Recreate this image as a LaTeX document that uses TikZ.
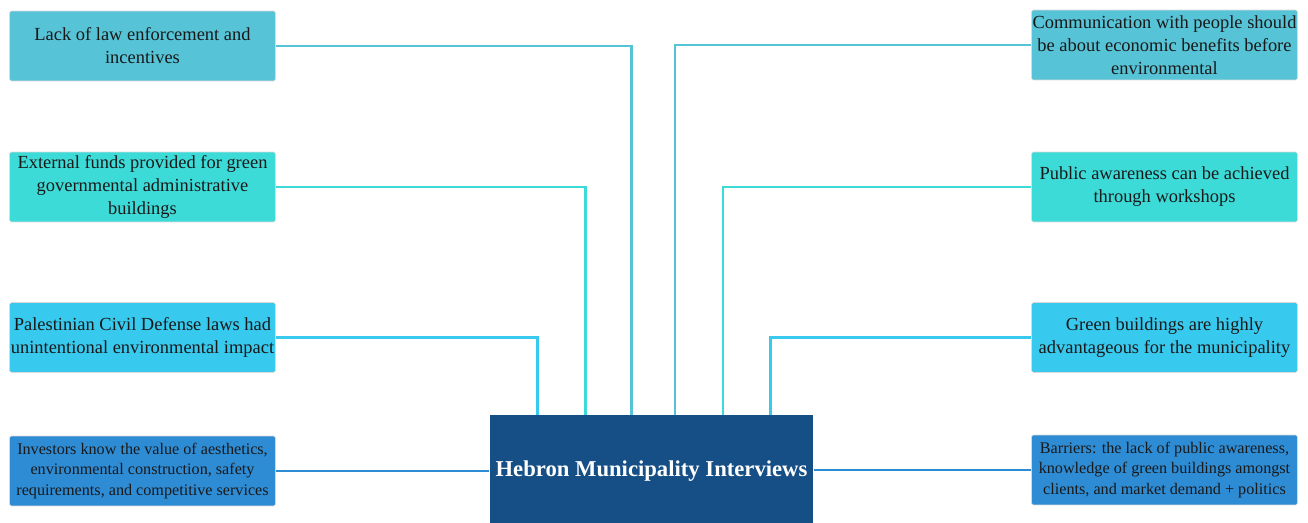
\documentclass[tikz,border=0pt]{standalone}
\usepackage{fontspec}
\setmainfont{Liberation Serif}
\usepackage{tikz}

\definecolor{tealbox}{HTML}{56C3D6}
\definecolor{turqbox}{HTML}{3DDBD8}
\definecolor{skybox}{HTML}{38C9EE}
\definecolor{bluebox}{HTML}{2E8CD5}
\definecolor{hubblue}{HTML}{164F85}

\begin{document}
\begin{tikzpicture}[x=0.02cm, y=-0.02cm,
    item/.style={rectangle, rounded corners=1pt, draw=white!85!black, line width=0.3pt,
      minimum width=5.3cm, minimum height=1.4cm, text width=5.32cm, align=flush center,
      inner xsep=0pt, inner ysep=1pt, text=black!90, font=\fontsize{10.5}{13}\selectfont},
    small/.style={font=\fontsize{9.2}{11.6}\selectfont},
    link/.style={line width=1.7pt}]

       \useasboundingbox (0,0) rectangle (1308,523);

       \node(hub)[rectangle, fill=hubblue, minimum width=6.42cm, minimum height=2.16cm,
         text height=1.03em, text depth=0.22em,
         text=white, font=\fontsize{12.9}{15}\bfseries\selectfont] at (651.5,469) {Hebron Municipality Interviews};

       % left side
       \node(L1)[item, fill=tealbox] at (142.5,46) {Lack of law enforcement and incentives};
       \node(L2)[item, fill=turqbox] at (142.5,187) {External funds provided for green governmental administrative buildings};
       \node(L3)[item, fill=skybox] at (142.5,337.5) {Palestinian Civil Defense laws had unintentional environmental impact};
       \node(L4)[item, small, fill=bluebox] at (142.5,471) {Investors know the value of aesthetics, environmental construction, safety requirements, and competitive services};

       % right side
       \node(R1)[item, fill=tealbox] at (1164.5,45) {Communication with people should be about economic benefits before environmental};
       \node(R2)[item, fill=turqbox] at (1164.5,187) {Public awareness can be achieved through workshops};
       \node(R3)[item, fill=skybox] at (1164.5,337.5) {Green buildings are highly advantageous for the municipality};
       \node(R4)[item, small, fill=bluebox] at (1164.5,470) {Barriers: the lack of public awareness, knowledge of green buildings amongst clients, and market demand + politics};

       \draw[link, tealbox] (L1.east) -| ([xshift=-0.41cm]hub.north);
       \draw[link, turqbox] (L2.east) -| ([xshift=-1.33cm]hub.north);
       \draw[link, skybox] (L3.east) -| ([xshift=-2.29cm]hub.north);
       \draw[link, bluebox] (L4.east) -- (L4.east -| hub.west);

       \draw[link, tealbox] (R1.west) -| ([xshift=0.47cm]hub.north);
       \draw[link, turqbox] (R2.west) -| ([xshift=1.43cm]hub.north);
       \draw[link, skybox] (R3.west) -| ([xshift=2.39cm]hub.north);
       \draw[link, bluebox] (R4.west) -- (R4.west -| hub.east);

     \end{tikzpicture}
\end{document}
